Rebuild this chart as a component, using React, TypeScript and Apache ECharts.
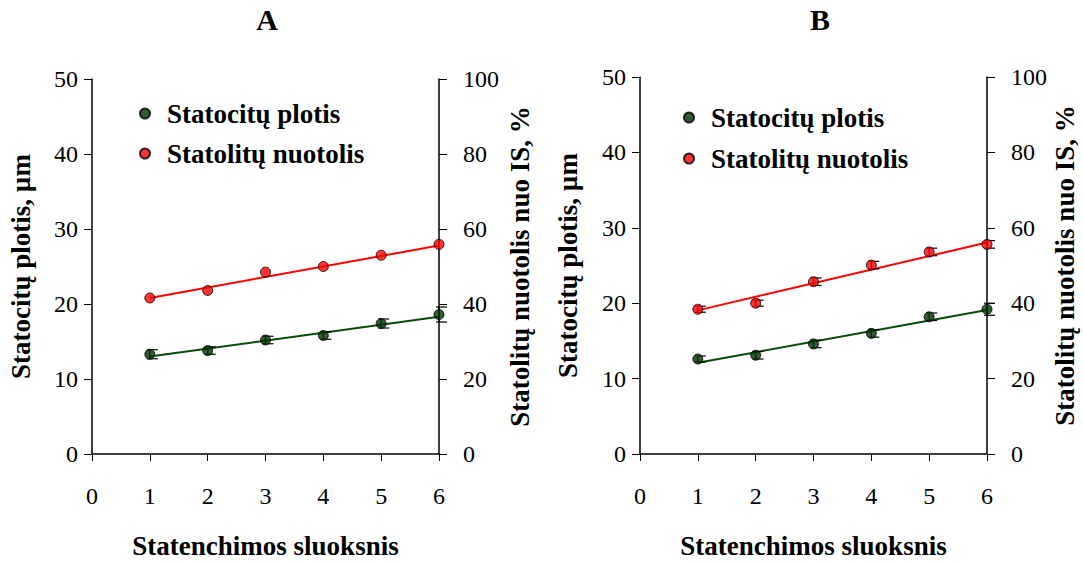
import React, { useEffect, useRef } from "react";
import * as echarts from "echarts";

const FONT = "'Liberation Serif', 'Times New Roman', serif";

// X categories (statenchimos sluoksnis)
const layers = [1, 2, 3, 4, 5, 6];

// Panel A
const widthA = [13.3, 13.8, 15.2, 15.8, 17.4, 18.6];
const distA = [41.6, 43.6, 48.5, 50.0, 53.0, 55.9];
const errWidthA = [0.6, 0.5, 0.5, 0.5, 0.6, 1.0];
const errDistA = [0, 0, 0, 0, 0, 0];
const trendWidthA = [13.0, 18.3];
const trendDistA = [41.6, 55.6];

// Panel B
const widthB = [12.6, 13.1, 14.6, 16.0, 18.2, 19.2];
const distB = [38.4, 40.0, 45.7, 50.1, 53.6, 55.6];
const errWidthB = [0.4, 0.5, 0.5, 0.5, 0.5, 0.8];
const errDistB = [0.8, 0.8, 1.0, 1.0, 1.0, 1.0];
const trendWidthB = [12.1, 19.1];
const trendDistB = [38.1, 56.1];

const trendX = [1, 6];

const xTicks = { min: 0, max: 6, interval: 1 };
const leftTicks = { min: 0, max: 50, interval: 10 };
const rightTicks = { min: 0, max: 100, interval: 20 };

const NAME_W = "Statocitų plotis";
const NAME_D = "Statolitų nuotolis";
const X_NAME = "Statenchimos sluoksnis";
const YL_NAME = "Statocitų plotis, µm";
const YR_NAME = "Statolitų nuotolis nuo IS, %";

const GREEN = "#003300";
const GREEN_LINE = "#0a4a0a";
const RED = "#ff0000";

const axisText = { color: "#000", fontSize: 24, fontFamily: FONT };
const nameText = { color: "#000", fontSize: 27, fontFamily: FONT, fontWeight: "bold" as const };

function errSeries(xi: number, yi: number, ys: number[], es: number[]) {
  return {
    type: "custom",
    xAxisIndex: xi,
    yAxisIndex: yi,
    z: 3,
    silent: true,
    data: layers.map((x, i) => [x, ys[i], es[i]]).filter((d) => d[2] > 0),
    renderItem: (params: any, api: any) => {
      const x = api.value(0);
      const y = api.value(1);
      const e = api.value(2);
      const top = api.coord([x, y + e]);
      const bot = api.coord([x, y - e]);
      const st = { stroke: "#000", lineWidth: 1.2 };
      return {
        type: "group",
        children: [
          { type: "line", shape: { x1: top[0], y1: top[1], x2: bot[0], y2: bot[1] }, style: st },
          { type: "line", shape: { x1: top[0] - 3, y1: top[1], x2: top[0] + 8, y2: top[1] }, style: st },
          { type: "line", shape: { x1: bot[0] - 3, y1: bot[1], x2: bot[0] + 8, y2: bot[1] }, style: st },
        ],
      };
    },
  };
}

function panel(g: number, w: number[], d: number[], ew: number[], ed: number[], tw: number[], td: number[]) {
  const xi = g;
  const yl = g * 2;
  const yr = g * 2 + 1;
  const series: any[] = [
    {
      type: "line",
      name: "trendW" + g,
      xAxisIndex: xi,
      yAxisIndex: yl,
      data: trendX.map((x, i) => [x, tw[i]]),
      symbol: "none",
      lineStyle: { color: GREEN_LINE, width: 2 },
      z: 2,
      silent: true,
    },
    {
      type: "line",
      name: "trendD" + g,
      xAxisIndex: xi,
      yAxisIndex: yr,
      data: trendX.map((x, i) => [x, td[i]]),
      symbol: "none",
      lineStyle: { color: RED, width: 2 },
      z: 2,
      silent: true,
    },
    errSeries(xi, yl, w, ew),
    errSeries(xi, yr, d, ed),
    {
      type: "scatter",
      name: NAME_W,
      xAxisIndex: xi,
      yAxisIndex: yl,
      data: layers.map((x, i) => [x, w[i]]),
      symbol: "circle",
      symbolSize: 10,
      itemStyle: { color: GREEN, borderColor: "#000", borderWidth: 1 },
      z: 5,
    },
    {
      type: "scatter",
      name: NAME_D,
      xAxisIndex: xi,
      yAxisIndex: yr,
      data: layers.map((x, i) => [x, d[i]]),
      symbol: "circle",
      symbolSize: 10,
      itemStyle: { color: RED, borderColor: "#000", borderWidth: 1 },
      z: 5,
    },
  ];
  return series;
}

function xAxis(g: number) {
  return {
    type: "value",
    gridIndex: g,
    ...xTicks,
    axisLine: { show: true, onZero: false, lineStyle: { color: "#000", width: 1.5 } },
    axisTick: { show: true, length: 7, lineStyle: { color: "#000", width: 1 } },
    axisLabel: { ...axisText, margin: 30 },
    splitLine: { show: false },
    name: X_NAME,
    nameLocation: "middle",
    nameGap: 78,
    nameTextStyle: nameText,
  };
}

function yAxes(g: number, leftGap: number, rightGap: number) {
  return [
    {
      type: "value",
      gridIndex: g,
      position: "left",
      ...leftTicks,
      axisLine: { show: true, onZero: false, lineStyle: { color: "#000", width: 1.5 } },
      axisTick: { show: true, length: 8, lineStyle: { color: "#000", width: 1 } },
      axisLabel: { ...axisText, margin: 14 },
      splitLine: { show: false },
      name: YL_NAME,
      nameLocation: "middle",
      nameRotate: 90,
      nameGap: leftGap,
      nameTextStyle: nameText,
    },
    {
      type: "value",
      gridIndex: g,
      position: "right",
      ...rightTicks,
      axisLine: { show: true, onZero: false, lineStyle: { color: "#000", width: 1.5 } },
      axisTick: { show: true, length: 8, lineStyle: { color: "#000", width: 1 } },
      axisLabel: { ...axisText, margin: 24 },
      splitLine: { show: false },
      name: YR_NAME,
      nameLocation: "middle",
      nameRotate: 90,
      nameGap: rightGap,
      nameTextStyle: nameText,
    },
  ];
}

function legend(left: number, top: number, gap: number) {
  return {
    orient: "vertical",
    left,
    top,
    icon: "circle",
    itemWidth: 10,
    itemHeight: 10,
    itemGap: gap,
    data: [NAME_W, NAME_D],
    selectedMode: false,
    textStyle: { ...nameText, padding: [0, 0, 0, 12] },
  };
}

export default function App() {
  const ref = useRef<HTMLDivElement>(null);
  useEffect(() => {
    const chart = echarts.init(ref.current!, null, { renderer: "svg" });
    chart.setOption({
      animation: false,
      backgroundColor: "#fff",
      grid: [
        { left: 92, top: 79, width: 347, height: 379 },
        { left: 640, top: 77, width: 347, height: 380 },
      ],
      xAxis: [xAxis(0), xAxis(1)],
      yAxis: [...yAxes(0, 58, 67), ...yAxes(1, 59, 64)],
      legend: [legend(134, 95, 13), legend(678, 99, 14)],
      graphic: [
        { type: "text", x: 267, y: 19, style: { text: "A", fontSize: 30, fontWeight: "bold", fontFamily: FONT, fill: "#000", align: "center", verticalAlign: "middle" } },
        { type: "text", x: 820, y: 19, style: { text: "B", fontSize: 30, fontWeight: "bold", fontFamily: FONT, fill: "#000", align: "center", verticalAlign: "middle" } },
      ],
      series: [
        ...panel(0, widthA, distA, errWidthA, errDistA, trendWidthA, trendDistA),
        ...panel(1, widthB, distB, errWidthB, errDistB, trendWidthB, trendDistB),
      ],
    });
    return () => chart.dispose();
  }, []);
  return (
    <div
      ref={ref}
      style={{ position: "fixed", left: 0, top: 0, width: 1083, height: 564, background: "#fff" }}
    />
  );
}
